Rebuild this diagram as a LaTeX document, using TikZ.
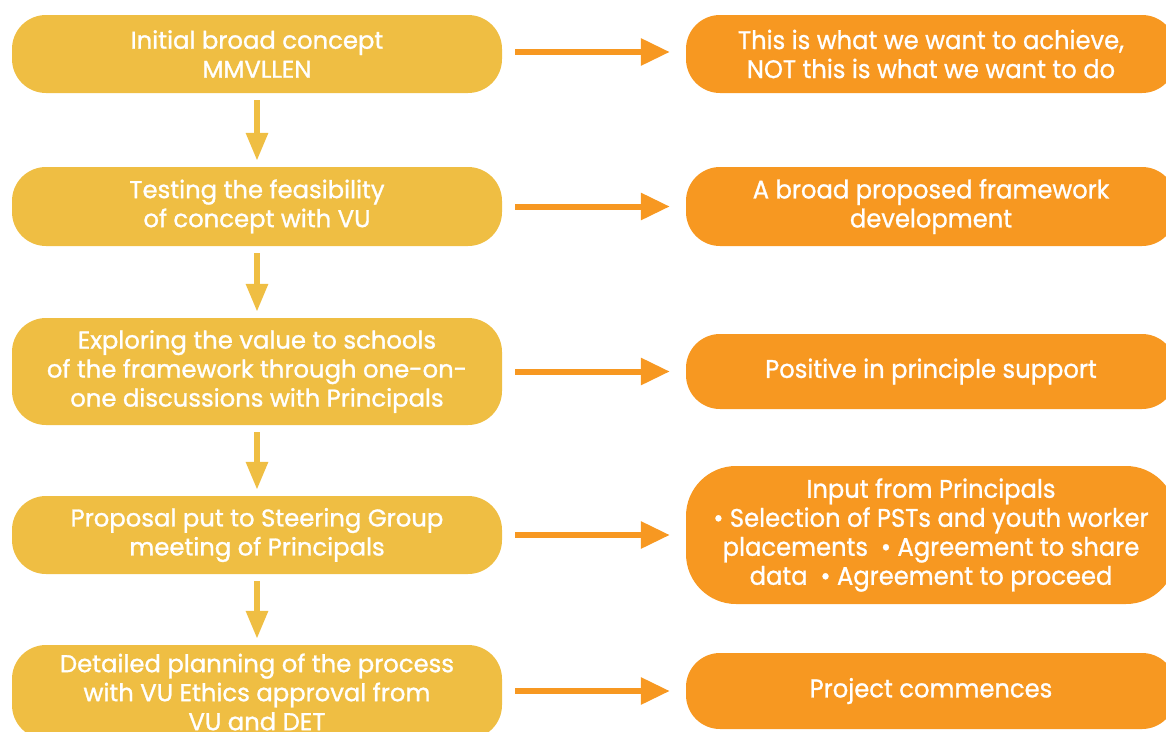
\documentclass[tikz,border=0pt]{standalone}
\usepackage{fontspec}
\setmainfont{Poppins}[FakeBold=1.2]
\newfontfamily\narrowfont{Poppins}[FakeStretch=0.95,FakeBold=1.0]
\usetikzlibrary{arrows.meta}
\definecolor{stepyellow}{RGB}{239,190,67}
\definecolor{outorange}{RGB}{247,152,33}
\tikzset{
  stepbox/.style={fill=stepyellow, rounded corners=34pt, minimum width=490pt,
    inner sep=0pt, align=center, text=white,
    font=\fontsize{24.3}{29}\selectfont},
  outbox/.style={fill=outorange, rounded corners=34pt, minimum width=490pt,
    inner sep=0pt, align=center, text=white,
    font=\narrowfont\fontsize{25.5}{29}\selectfont},
  downarrow/.style={draw=stepyellow, line width=6pt,
    -{Triangle[length=28pt,width=21pt]}, shorten <=7pt, shorten >=6pt},
  rightarrow/.style={draw=outorange, line width=6pt,
    -{Triangle[length=29pt,width=26pt]}, shorten <=13pt, shorten >=16pt}
}
\begin{document}
\begin{tikzpicture}[x=1pt,y=-1pt]
\useasboundingbox (0,0) rectangle (1166,731);
% process steps
\node[stepbox, minimum height=78pt]  (L1) at (257,54)    {Initial broad concept\\MMVLLEN};
\node[stepbox, minimum height=79pt]  (L2) at (257,206.5) {Testing the feasibility\\of concept with VU};
\node[stepbox, minimum height=107pt] (L3) at (257,371.5) {Exploring the value to schools\\of the framework through one-on-\\one discussions with Principals};
\node[stepbox, minimum height=78pt]  (L4) at (257,535)   {Proposal put to Steering Group\\meeting of Principals};
\node[stepbox, minimum height=94pt]  (L5) at (257,692)   {Detailed planning of the process\\with VU Ethics approval from\\VU and DET};
% outcomes
\node[outbox, minimum height=78pt]  (R1) at (931,54)    {This is what we want to achieve,\\NOT this is what we want to do};
\node[outbox, minimum height=79pt]  (R2) at (931,206.5) {A broad proposed framework\\development};
\node[outbox, minimum height=75pt]  (R3) at (931,371.5) {Positive in principle support};
\node[outbox, minimum height=138pt, rounded corners=50pt] (R4) at (931,535)
  {Input from Principals\\\textbullet\ Selection of PSTs and youth worker\\placements \ \textbullet\ Agreement to share\\data \ \textbullet\ Agreement to proceed};
\node[outbox, minimum height=76pt]  (R5) at (931,691)   {Project commences};
% flow between steps
\draw[downarrow] (L1) -- (L2);
\draw[downarrow] (L2) -- (L3);
\draw[downarrow] (L3) -- (L4);
\draw[downarrow] (L4) -- (L5);
% step to outcome
\draw[rightarrow] ([yshift=2pt]L1.east) -- ([yshift=2pt]R1.west);
\draw[rightarrow] (L2) -- (R2);
\draw[rightarrow] (L3) -- (R3);
\draw[rightarrow] (L4) -- (R4);
\draw[rightarrow] (L5.east |- R5) -- (R5);
\end{tikzpicture}
\end{document}
